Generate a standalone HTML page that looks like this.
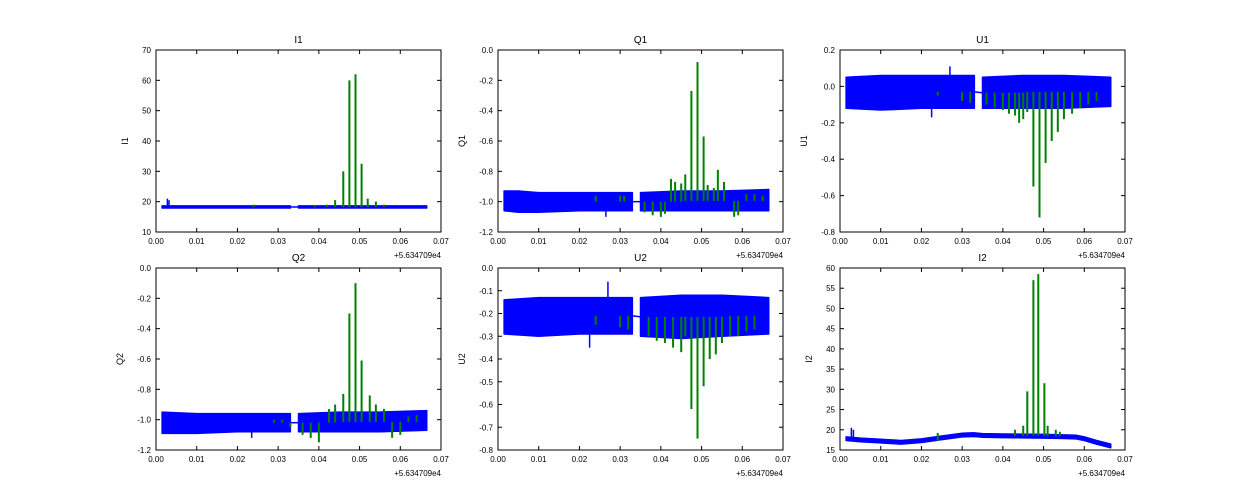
<!DOCTYPE html>
<html><head><meta charset="utf-8"><style>
body{margin:0;background:#fff}
svg{display:block;font-family:"Liberation Sans",sans-serif}
</style></head><body>
<svg id="fig" width="1250" height="500"></svg>
<script>
const xTicks=[0,0.01,0.02,0.03,0.04,0.05,0.06,0.07];
const xTickLabels=["0.00","0.01","0.02","0.03","0.04","0.05","0.06","0.07"];
// ---- I1
const i1Band1X=[0.0015,0.01,0.02,0.033], i1Band1Lo=[17.9,17.9,17.9,17.9], i1Band1Hi=[18.6,18.6,18.6,18.6];
const i1Band2X=[0.035,0.05,0.0665], i1Band2Lo=[17.9,17.9,17.9], i1Band2Hi=[18.6,18.6,18.6];
const i1BlueSpX=[0.0028,0.0032], i1BlueSpV=[21,20.5];
const i1SpX=[0.024,0.039,0.042,0.044,0.046,0.0475,0.049,0.0505,0.052,0.054,0.056], i1SpV=[19,18.8,19,20.5,30,60,62,32.5,21,20,19];
// ---- Q1
const q1Band1X=[0.0015,0.005,0.01,0.02,0.033], q1Band1Lo=[-1.06,-1.07,-1.07,-1.06,-1.06], q1Band1Hi=[-0.93,-0.93,-0.94,-0.94,-0.94];
const q1Band2X=[0.035,0.045,0.055,0.0665], q1Band2Lo=[-1.06,-1.06,-1.06,-1.06], q1Band2Hi=[-0.94,-0.93,-0.93,-0.92];
const q1BlueSpX=[0.0265], q1BlueSpV=[-1.1];
const q1SpX=[0.024,0.030,0.031,0.033,0.036,0.038,0.040,0.041,0.0425,0.0435,0.045,0.046,0.0475,0.049,0.0505,0.0515,0.053,0.054,0.0555,0.058,0.059,0.061,0.063,0.065],
      q1SpV=[-0.96,-0.96,-0.96,-1.0,-1.07,-1.09,-1.1,-1.08,-0.85,-0.87,-0.88,-0.82,-0.27,-0.08,-0.57,-0.89,-0.91,-0.79,-0.87,-1.1,-1.09,-0.95,-0.95,-0.96];
// ---- U1
const u1Band1X=[0.0015,0.01,0.02,0.033], u1Band1Lo=[-0.12,-0.13,-0.12,-0.12], u1Band1Hi=[0.05,0.06,0.06,0.06];
const u1Band2X=[0.035,0.045,0.055,0.0665], u1Band2Lo=[-0.12,-0.12,-0.12,-0.11], u1Band2Hi=[0.05,0.06,0.06,0.05];
const u1BlueSpX=[0.0225,0.027], u1BlueSpV=[-0.17,0.11];
const u1SpX=[0.024,0.030,0.032,0.036,0.038,0.040,0.0415,0.043,0.044,0.045,0.046,0.0475,0.049,0.0505,0.052,0.0535,0.055,0.057,0.059,0.061,0.063],
      u1SpV=[-0.05,-0.08,-0.09,-0.1,-0.12,-0.13,-0.15,-0.16,-0.2,-0.18,-0.14,-0.55,-0.72,-0.42,-0.3,-0.25,-0.18,-0.15,-0.12,-0.1,-0.08];
// ---- Q2
const q2Band1X=[0.0015,0.01,0.02,0.033], q2Band1Lo=[-1.09,-1.09,-1.08,-1.08], q2Band1Hi=[-0.95,-0.96,-0.96,-0.96];
const q2Band2X=[0.035,0.045,0.055,0.0665], q2Band2Lo=[-1.08,-1.08,-1.08,-1.07], q2Band2Hi=[-0.96,-0.95,-0.95,-0.94];
const q2BlueSpX=[0.0235], q2BlueSpV=[-1.12];
const q2SpX=[0.029,0.031,0.033,0.036,0.038,0.040,0.0425,0.044,0.046,0.0475,0.049,0.0505,0.0525,0.054,0.056,0.058,0.060,0.062,0.064],
      q2SpV=[-1.0,-1.0,-1.05,-1.1,-1.12,-1.15,-0.93,-0.9,-0.83,-0.3,-0.1,-0.61,-0.84,-0.9,-0.93,-1.12,-1.1,-0.98,-0.97];
// ---- U2
const u2Band1X=[0.0015,0.01,0.02,0.033], u2Band1Lo=[-0.29,-0.3,-0.29,-0.29], u2Band1Hi=[-0.14,-0.13,-0.13,-0.13];
const u2Band2X=[0.035,0.045,0.055,0.0665], u2Band2Lo=[-0.3,-0.31,-0.3,-0.29], u2Band2Hi=[-0.13,-0.12,-0.12,-0.13];
const u2BlueSpX=[0.0225,0.027], u2BlueSpV=[-0.35,-0.06];
const u2SpX=[0.024,0.030,0.032,0.037,0.039,0.041,0.043,0.045,0.046,0.0475,0.049,0.0505,0.052,0.0535,0.055,0.057,0.059,0.061,0.063],
      u2SpV=[-0.25,-0.26,-0.27,-0.3,-0.32,-0.33,-0.35,-0.37,-0.3,-0.62,-0.75,-0.52,-0.4,-0.38,-0.33,-0.3,-0.3,-0.28,-0.27];
// ---- I2
const i2BandX=[0.0015,0.005,0.01,0.015,0.02,0.025,0.03,0.033,0.035,0.04,0.05,0.055,0.058,0.06,0.063,0.0665];
const i2BandMid=[17.8,17.5,17.2,16.9,17.3,18.0,18.7,18.8,18.6,18.5,18.4,18.3,18.2,17.8,16.9,16.0];
const i2BlueSpX=[0.0028,0.0033], i2BlueSpV=[20.5,20];
const i2SpX=[0.024,0.043,0.045,0.046,0.0475,0.0487,0.0502,0.051,0.053,0.054], i2SpV=[19.2,20,21,29.5,57,58.5,31.5,21,20,19.5];

const panels=[
 {name:"I1",x0:156,y0:50,ymin:10,ymax:70,yt:[10,20,30,40,50,60,70],fmt:v=>String(v),bands:[[i1Band1X,i1Band1Lo,i1Band1Hi],[i1Band2X,i1Band2Lo,i1Band2Hi]],bsx:i1BlueSpX,bsv:i1BlueSpV,sx:i1SpX,sv:i1SpV},
 {name:"Q1",x0:498,y0:50,ymin:-1.2,ymax:0,yt:[-1.2,-1,-0.8,-0.6,-0.4,-0.2,0],fmt:v=>v.toFixed(1),bands:[[q1Band1X,q1Band1Lo,q1Band1Hi],[q1Band2X,q1Band2Lo,q1Band2Hi]],bsx:q1BlueSpX,bsv:q1BlueSpV,sx:q1SpX,sv:q1SpV},
 {name:"U1",x0:840,y0:50,ymin:-0.8,ymax:0.2,yt:[-0.8,-0.6,-0.4,-0.2,0,0.2],fmt:v=>v.toFixed(1),bands:[[u1Band1X,u1Band1Lo,u1Band1Hi],[u1Band2X,u1Band2Lo,u1Band2Hi]],bsx:u1BlueSpX,bsv:u1BlueSpV,sx:u1SpX,sv:u1SpV},
 {name:"Q2",x0:156,y0:268,ymin:-1.2,ymax:0,yt:[-1.2,-1,-0.8,-0.6,-0.4,-0.2,0],fmt:v=>v.toFixed(1),bands:[[q2Band1X,q2Band1Lo,q2Band1Hi],[q2Band2X,q2Band2Lo,q2Band2Hi]],bsx:q2BlueSpX,bsv:q2BlueSpV,sx:q2SpX,sv:q2SpV},
 {name:"U2",x0:498,y0:268,ymin:-0.8,ymax:0,yt:[-0.8,-0.7,-0.6,-0.5,-0.4,-0.3,-0.2,-0.1,0],fmt:v=>v.toFixed(1),bands:[[u2Band1X,u2Band1Lo,u2Band1Hi],[u2Band2X,u2Band2Lo,u2Band2Hi]],bsx:u2BlueSpX,bsv:u2BlueSpV,sx:u2SpX,sv:u2SpV},
 {name:"I2",x0:840,y0:268,ymin:15,ymax:60,yt:[15,20,25,30,35,40,45,50,55,60],fmt:v=>String(v),bands:[[i2BandX,i2BandMid.map(v=>v-0.45),i2BandMid.map(v=>v+0.45)]],bsx:i2BlueSpX,bsv:i2BlueSpV,sx:i2SpX,sv:i2SpV}
];
const W=285,H=182,NS="http://www.w3.org/2000/svg";
const svg=document.getElementById('fig');
function mk(t,a,p){const e=document.createElementNS(NS,t);for(const k in a)e.setAttribute(k,a[k]);(p||svg).appendChild(e);return e;}
panels.forEach(p=>{
 const g=mk('g',{});
 
 
 const sx=v=>p.x0+v/0.07*W, sy=v=>p.y0+H-(v-p.ymin)/(p.ymax-p.ymin)*H;
 const bandMid=b=>(b[1][0]+b[2][0])/2, bandMidEnd=b=>(b[1][b[1].length-1]+b[2][b[2].length-1])/2;
 // connecting line between segments
 if(p.bands.length>1){const a=p.bands[0],b=p.bands[1];
  const l=mk('line',{x1:sx(a[0][a[0].length-1]),y1:sy(bandMidEnd(a)),x2:sx(b[0][0]),y2:sy(bandMid(b)),stroke:'#0000ff','stroke-width':1.5},g);
  
  }
 p.bands.forEach((b,bi)=>{
  let pts=b[0].map((x,i)=>sx(x)+','+sy(b[2][i]));
  pts=pts.concat(b[0].map((x,i)=>sx(x)+','+sy(b[1][i])).reverse());
  const e=mk('polygon',{points:pts.join(' '),fill:'#0000ff',stroke:'#0000ff','stroke-width':1.5,'stroke-linejoin':'round'},g);
  
  
 });
 p.bsx.forEach((x,i)=>{
  const base=sy((p.ymin+p.ymax)/2);
  const b=p.bands[p.bands.length>1&&x>0.034?1:0];
  let k=0;while(k<b[0].length-2&&b[0][k+1]<x)k++;
  const mid=(b[1][k]+b[2][k])/2;
  const e=mk('line',{x1:sx(x),x2:sx(x),y1:sy(mid),y2:sy(p.bsv[i]),stroke:'#0000ff','stroke-width':1.5},g);
  
  
 });
 p.sx.forEach((x,i)=>{
  const b=p.bands[p.bands.length>1&&x>0.034?1:0];
  let k=0;while(k<b[0].length-2&&b[0][k+1]<x)k++;
  const mid=(b[1][k]+b[2][k])/2;
  const e=mk('line',{x1:sx(x),x2:sx(x),y1:sy(mid),y2:sy(p.sv[i]),stroke:'#008000','stroke-width':2},g);
  
  
 });
 const fr=mk('rect',{x:p.x0,y:p.y0,width:W,height:H,fill:'none',stroke:'#000','stroke-width':1},g);
 
 
 xTicks.forEach((t,i)=>{
  const x=sx(t);
  mk('line',{x1:x,x2:x,y1:p.y0+H,y2:p.y0+H-4,stroke:'#000'},g);
  mk('line',{x1:x,x2:x,y1:p.y0,y2:p.y0+4,stroke:'#000'},g);
  const tx=mk('text',{x:x,y:p.y0+H+12,'font-size':8,'text-anchor':'middle'},g);tx.textContent=xTickLabels[i];
  
  
 });
 p.yt.forEach(t=>{
  const y=sy(t);
  mk('line',{x1:p.x0,x2:p.x0+4,y1:y,y2:y,stroke:'#000'},g);
  mk('line',{x1:p.x0+W,x2:p.x0+W-4,y1:y,y2:y,stroke:'#000'},g);
  const tx=mk('text',{x:p.x0-5,y:y+3,'font-size':8,'text-anchor':'end'},g);tx.textContent=p.fmt(t);
  
  
 });
 const off=mk('text',{x:p.x0+W,y:p.y0+H+26,'font-size':8,'text-anchor':'end'},g);off.textContent='+5.634709e4';
 
 
 const ti=mk('text',{x:p.x0+W/2,y:p.y0-7,'font-size':10,'text-anchor':'middle'},g);ti.textContent=p.name;
 
 
 const yl=p.name[0]==='I'?p.x0-28:p.x0-33;
 const yt=mk('text',{x:yl,y:p.y0+H/2,'font-size':9,'text-anchor':'middle',transform:`rotate(-90 ${yl} ${p.y0+H/2})`},g);yt.textContent=p.name;
 
 
});
</script>
</body></html>
